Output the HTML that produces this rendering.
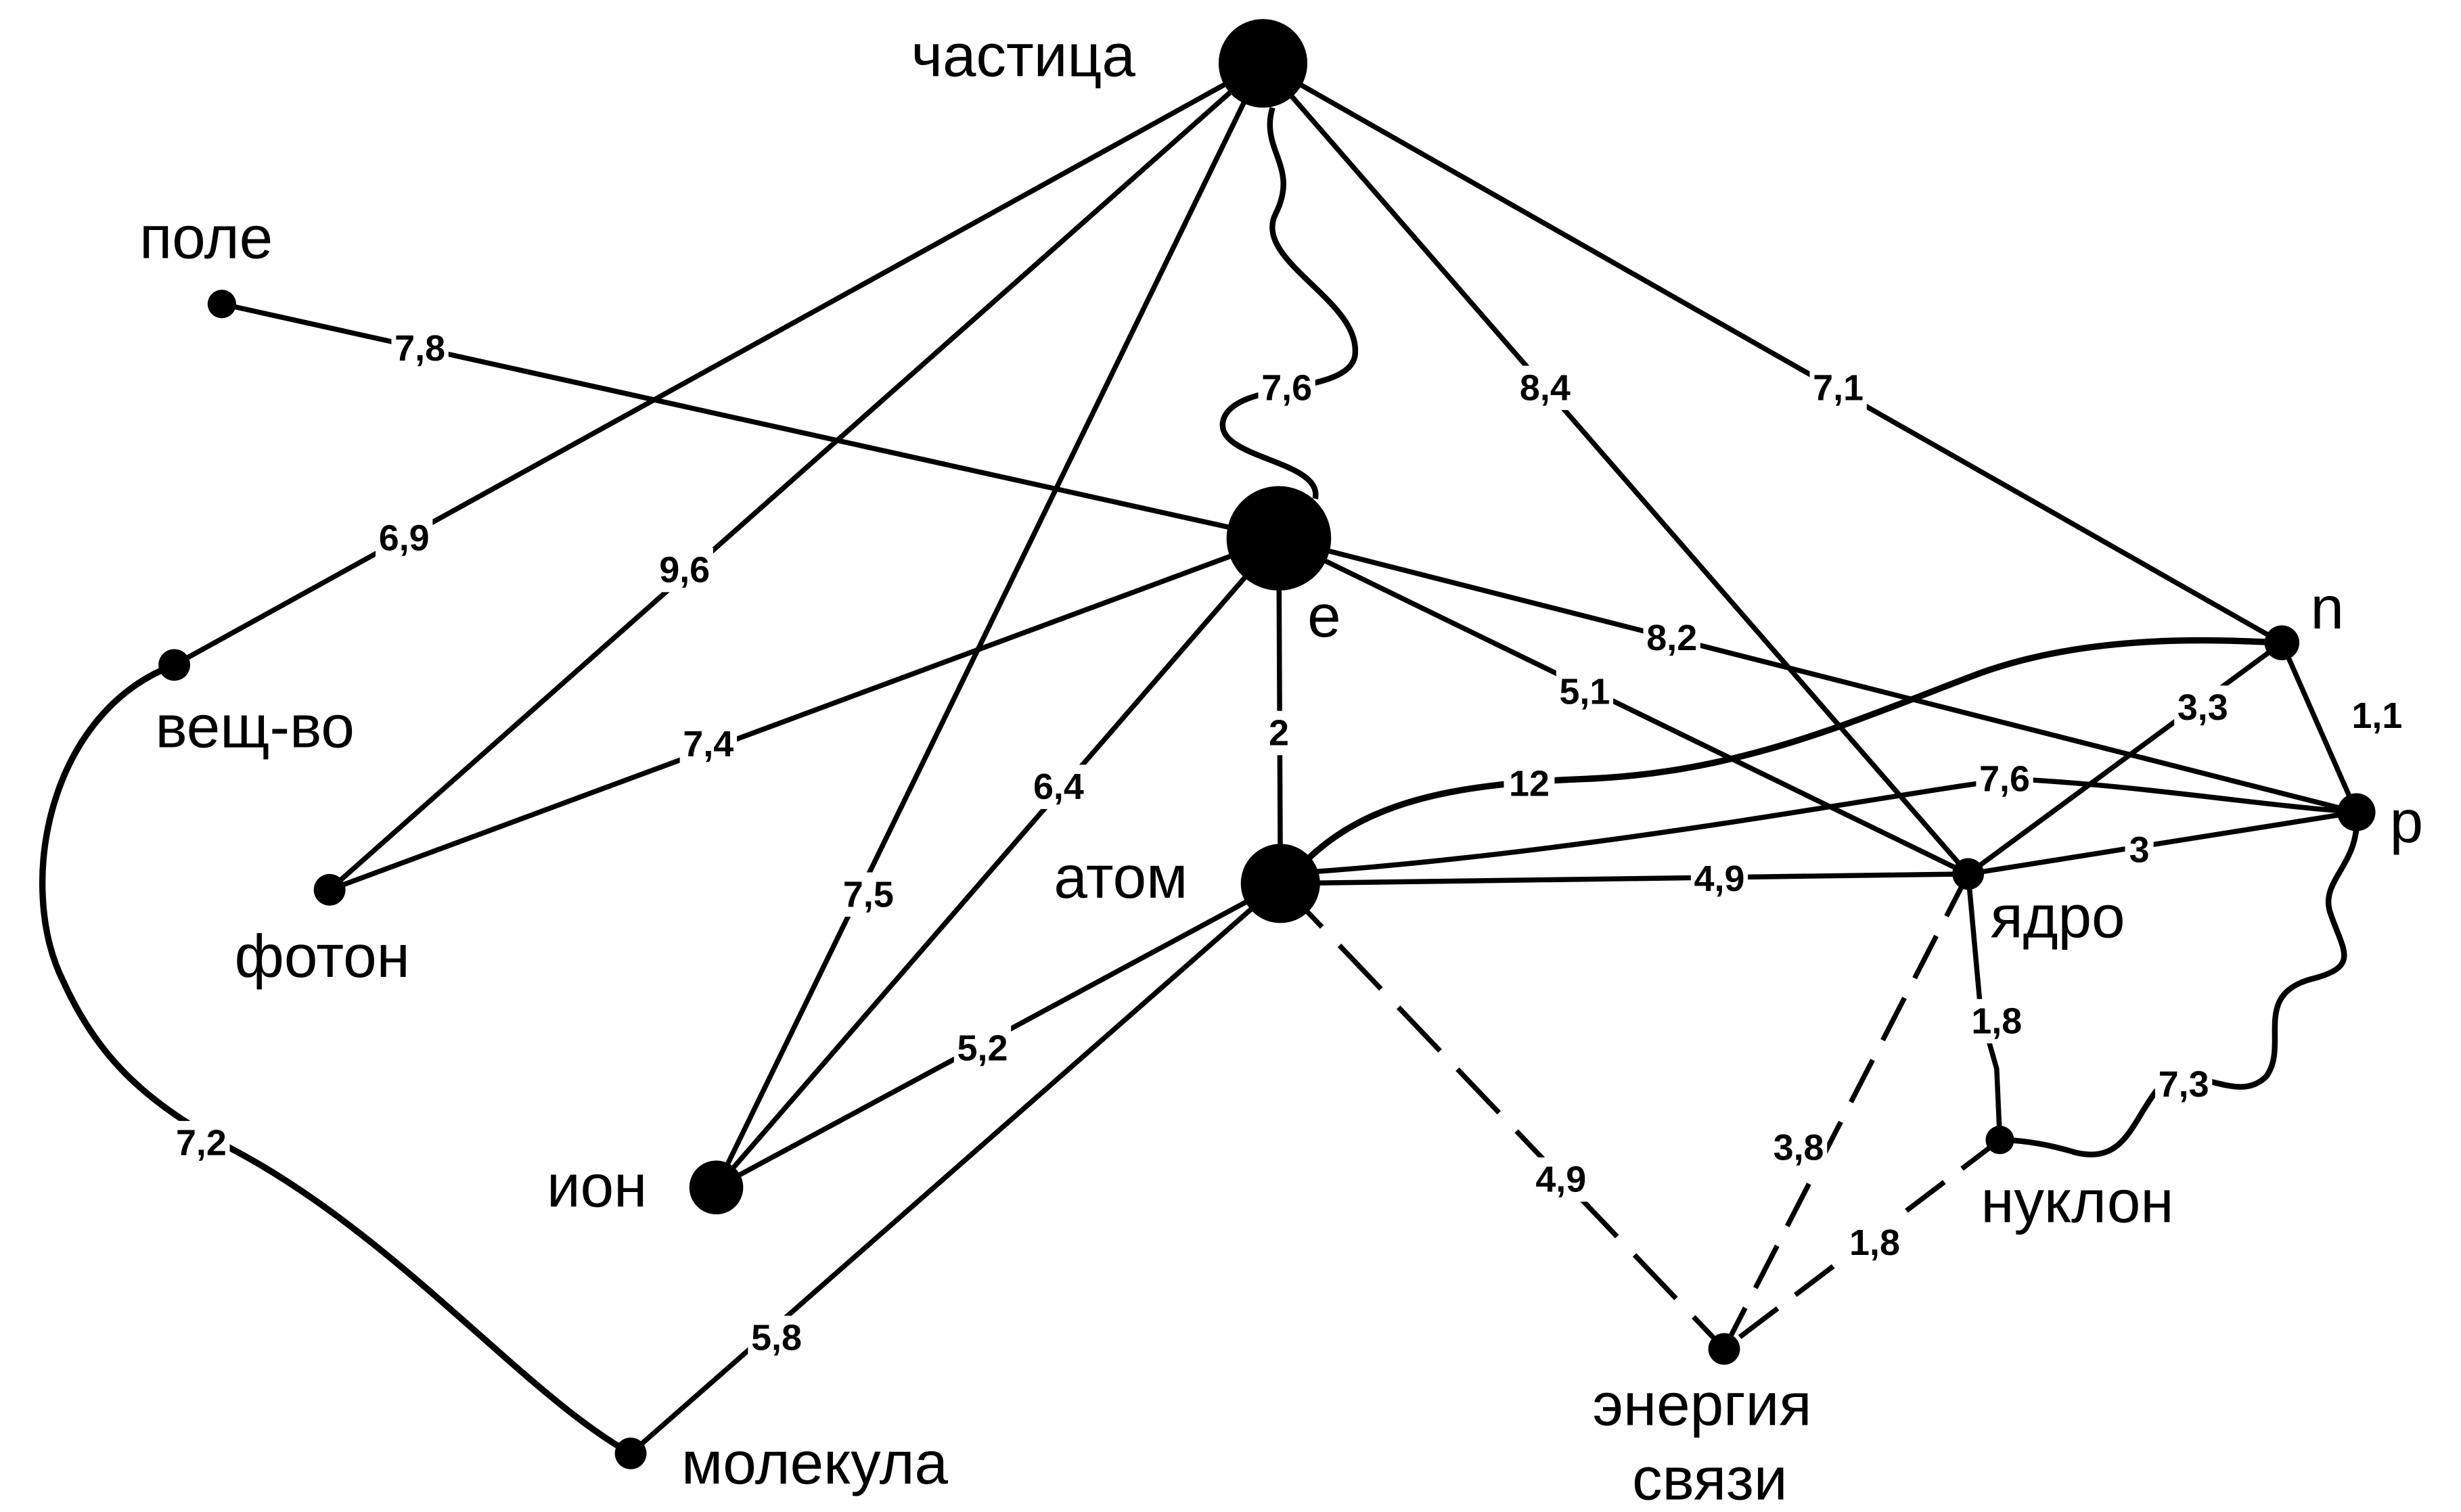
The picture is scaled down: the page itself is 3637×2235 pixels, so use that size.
<!DOCTYPE html>
<html><head><meta charset="utf-8"><style>
html,body{margin:0;padding:0;background:#fff;}
svg{display:block;}
.l{font-family:"Liberation Sans",sans-serif;font-size:23px;fill:#000;text-anchor:middle;dominant-baseline:central;font-weight:600;}
.n{font-family:"Liberation Sans",sans-serif;font-size:38px;fill:#000;}
</style></head><body>
<svg width="3637" height="2235" viewBox="0 0 1553 955" preserveAspectRatio="none" xmlns="http://www.w3.org/2000/svg">
<g stroke="#000" stroke-width="3.2" fill="none">
<line x1="797" y1="40" x2="110" y2="420"/>
<line x1="797" y1="40" x2="208" y2="562"/>
<line x1="797" y1="40" x2="452" y2="750"/>
<line x1="797" y1="40" x2="1242" y2="552"/>
<line x1="797" y1="40" x2="1440" y2="406"/>
<path d="M803,68 C795,95 820,105 805,135 C790,165 860,190 855,225 C850,250 780,240 772,265 C765,290 835,290 830,315" stroke-width="3.6"/>
<line x1="140" y1="192" x2="807" y2="340"/>
<line x1="807" y1="340" x2="208" y2="562"/>
<line x1="807" y1="340" x2="452" y2="750"/>
<line x1="807" y1="340" x2="808" y2="558"/>
<line x1="807" y1="340" x2="1242" y2="552"/>
<line x1="807" y1="340" x2="1487" y2="513"/>
<path d="M820,548 C860,505 920,495 1000,492 C1100,488 1170,455 1250,425 C1320,400 1400,404 1440,406" stroke-width="4"/>
<path d="M808,552 C1000,540 1200,500 1270,492 C1350,496 1420,508 1487,513"/>
<line x1="808" y1="558" x2="1242" y2="552"/>
<line x1="808" y1="558" x2="452" y2="750"/>
<line x1="808" y1="558" x2="398" y2="918"/>
<line x1="808" y1="558" x2="1088" y2="852" stroke-dasharray="38,16"/>
<line x1="1242" y1="552" x2="1440" y2="406"/>
<line x1="1242" y1="552" x2="1487" y2="513"/>
<path d="M1242,552 L1250,640 L1260,675 L1262,720"/>
<line x1="1242" y1="552" x2="1088" y2="852" stroke-dasharray="30,14"/>
<line x1="1262" y1="720" x2="1088" y2="852" stroke-dasharray="30,14"/>
<line x1="1440" y1="406" x2="1487" y2="513"/>
<path d="M1487,513 C1490,545 1465,555 1470,575 C1478,600 1490,610 1460,618 C1420,628 1445,660 1430,680 C1410,700 1380,665 1360,690 C1345,710 1340,735 1310,728 C1290,722 1275,720 1262,720" stroke-width="3.6"/>
<path d="M110,420 C30,450 10,560 40,620 C65,675 100,700 145,725 C250,780 330,880 398,918" stroke-width="4"/>
</g>
<g fill="#000">
<circle cx="797" cy="40" r="28"/>
<circle cx="140" cy="192" r="9"/>
<circle cx="807" cy="340" r="33"/>
<circle cx="110" cy="420" r="10"/>
<circle cx="208" cy="562" r="10"/>
<circle cx="808" cy="558" r="25"/>
<circle cx="452" cy="750" r="17"/>
<circle cx="398" cy="918" r="10"/>
<circle cx="1440" cy="406" r="11"/>
<circle cx="1487" cy="513" r="12"/>
<circle cx="1242" cy="552" r="10"/>
<circle cx="1262" cy="720" r="9"/>
<circle cx="1088" cy="852" r="10"/>
</g>
<g fill="#fff">
<rect x="237" y="326" width="36" height="28"/>
<rect x="414" y="346" width="36" height="28"/>
<rect x="530" y="551" width="36" height="28"/>
<rect x="794" y="231" width="36" height="28"/>
<rect x="957" y="231" width="36" height="28"/>
<rect x="1142" y="231" width="36" height="28"/>
<rect x="247" y="206" width="36" height="28"/>
<rect x="429" y="456" width="36" height="28"/>
<rect x="650" y="483" width="36" height="28"/>
<rect x="798" y="449" width="18" height="28"/>
<rect x="982" y="423" width="36" height="28"/>
<rect x="1037" y="389" width="36" height="28"/>
<rect x="949" y="481" width="32" height="28"/>
<rect x="1247" y="478" width="36" height="28"/>
<rect x="1067" y="541" width="36" height="28"/>
<rect x="602" y="648" width="36" height="28"/>
<rect x="472" y="831" width="36" height="28"/>
<rect x="967" y="731" width="36" height="28"/>
<rect x="1372" y="433" width="36" height="28"/>
<rect x="1341" y="523" width="18" height="28"/>
<rect x="1482" y="438" width="36" height="28"/>
<rect x="1242" y="631" width="36" height="28"/>
<rect x="1117" y="711" width="36" height="28"/>
<rect x="1165" y="771" width="36" height="28"/>
<rect x="1360" y="671" width="36" height="28"/>
<rect x="109" y="708" width="36" height="28"/>
</g>
<g>
<text class="l" x="255" y="340">6,9</text>
<text class="l" x="432" y="360">9,6</text>
<text class="l" x="548" y="565">7,5</text>
<text class="l" x="812" y="245">7,6</text>
<text class="l" x="975" y="245">8,4</text>
<text class="l" x="1160" y="245">7,1</text>
<text class="l" x="265" y="220">7,8</text>
<text class="l" x="447" y="470">7,4</text>
<text class="l" x="668" y="497">6,4</text>
<text class="l" x="807" y="463">2</text>
<text class="l" x="1000" y="437">5,1</text>
<text class="l" x="1055" y="403">8,2</text>
<text class="l" x="965" y="495">12</text>
<text class="l" x="1265" y="492">7,6</text>
<text class="l" x="1085" y="555">4,9</text>
<text class="l" x="620" y="662">5,2</text>
<text class="l" x="490" y="845">5,8</text>
<text class="l" x="985" y="745">4,9</text>
<text class="l" x="1390" y="447">3,3</text>
<text class="l" x="1350" y="537">3</text>
<text class="l" x="1500" y="452">1,1</text>
<text class="l" x="1260" y="645">1,8</text>
<text class="l" x="1135" y="725">3,8</text>
<text class="l" x="1183" y="785">1,8</text>
<text class="l" x="1378" y="685">7,3</text>
<text class="l" x="127" y="722">7,2</text>
</g>
<g>
<text class="n" x="575" y="48">частица</text>
<text class="n" x="88" y="163">поле</text>
<text class="n" x="825" y="402">e</text>
<text class="n" x="98" y="472">вещ-во</text>
<text class="n" x="148" y="617">фотон</text>
<text class="n" x="665" y="567">атом</text>
<text class="n" x="345" y="762">ион</text>
<text class="n" x="430" y="937">молекула</text>
<text class="n" x="1458" y="397">n</text>
<text class="n" x="1508" y="532">p</text>
<text class="n" x="1256" y="592">ядро</text>
<text class="n" x="1250" y="772">нуклон</text>
<text class="n" x="1005" y="900">энергия</text>
<text class="n" x="1030" y="947">связи</text>
</g>
</svg>
</body></html>
